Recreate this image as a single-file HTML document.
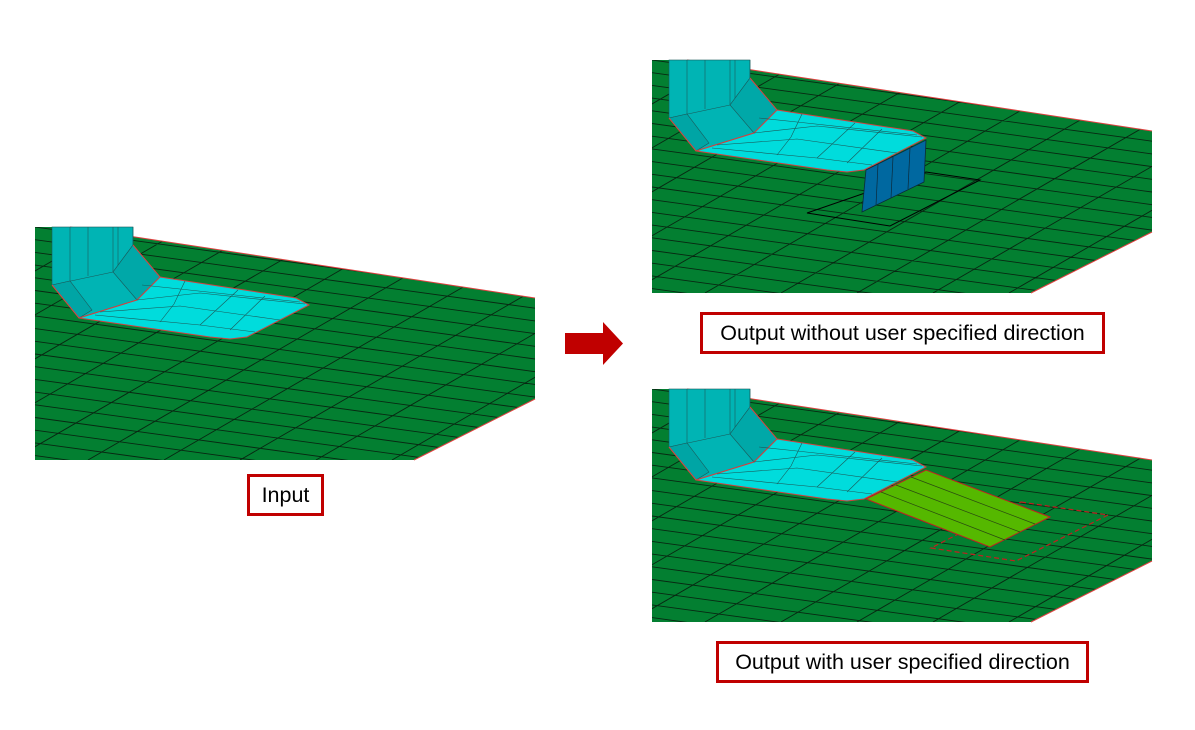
<!DOCTYPE html>
<html><head><meta charset="utf-8"><style>
html,body{margin:0;padding:0;background:#fff;}
.lbl{position:absolute;box-sizing:border-box;border:3px solid #c00000;background:#fff;font-family:"Liberation Sans",sans-serif;font-size:21.5px;color:#000;display:flex;align-items:center;justify-content:center;white-space:nowrap;}
</style></head><body>
<div style="position:relative;width:1195px;height:730px;overflow:hidden;">
<svg width="1195" height="730" style="position:absolute;left:0;top:0">
<defs>
<clipPath id="pc"><polygon points="35,227 70,227 535,298 535,399 414,460 35,460"/></clipPath>
<g id="scene">
<g clip-path="url(#pc)">
<rect x="35" y="227" width="500" height="233" fill="#037f31"/>
<path stroke="#082812" stroke-width="0.9" fill="none" d="
M35,163.5 l500,68.5 M35,176.2 l500,68.5 M35,188.9 l500,68.5 M35,201.6 l500,68.5 M35,214.3 l500,68.5
M35,227 l500,68.5 M35,239.7 l500,68.5 M35,252.4 l500,68.5 M35,265.1 l500,68.5 M35,277.8 l500,68.5
M35,290.5 l500,68.5 M35,303.2 l500,68.5 M35,315.9 l500,68.5 M35,328.6 l500,68.5 M35,341.3 l500,68.5
M35,354 l500,68.5 M35,366.7 l500,68.5 M35,379.4 l500,68.5 M35,392.1 l500,68.5 M35,404.8 l500,68.5
M35,417.5 l500,68.5 M35,430.2 l500,68.5 M35,442.9 l500,68.5 M35,455.6 l500,68.5
M35,227 l-403,233 M111,227 l-403,233 M187,227 l-403,233 M263,227 l-403,233 M339,227 l-403,233
M415,227 l-403,233 M491,227 l-403,233 M567,227 l-403,233 M643,227 l-403,233 M719,227 l-403,233
M795,227 l-403,233 M871,227 l-403,233 M947,227 l-403,233"/>
</g>
<line x1="70" y1="227" x2="535" y2="298" stroke="#e04040" stroke-width="1"/>
<line x1="535" y1="399" x2="414" y2="460" stroke="#e04040" stroke-width="1"/>
<rect x="52" y="227" width="81" height="58" fill="#00b4b4" stroke="#1a5a5a" stroke-width="0.6"/>
<line x1="70" y1="227" x2="70" y2="281" stroke="#1a5a5a" stroke-width="0.6"/>
<line x1="88" y1="227" x2="88" y2="276" stroke="#1a5a5a" stroke-width="0.6"/>
<line x1="113" y1="227" x2="113" y2="272" stroke="#1a5a5a" stroke-width="0.6"/>
<line x1="118" y1="227" x2="118" y2="265" stroke="#1a5a5a" stroke-width="0.6"/>
<polygon points="52,285 113,272 133,245 133,227 133,245 160,277 137,300 79,318" fill="#00b4b4" stroke="#1a5a5a" stroke-width="0.6"/>
<polygon points="52,285 70,281 92,310 79,318" fill="#00a5a5" stroke="#1a5a5a" stroke-width="0.6"/>
<polygon points="113,272 133,245 160,277 137,300" fill="#00a8a8" stroke="#1a5a5a" stroke-width="0.6"/>
<polyline points="52,285 79,318 137,300 160,277 133,245" fill="none" stroke="#e04040" stroke-width="1"/>
<polygon points="160,277 296,298 309,305 247,337 230,339 210,337 79,318 137,300" fill="#00dcdc" stroke="#d04040" stroke-width="1"/>
<g stroke="#1a5a5a" stroke-width="0.6" fill="none">
<polyline points="142,285 180,289 300,302"/><polyline points="137,300 200,293 305,304"/>
<polyline points="100,312 180,306 280,320"/><polyline points="95,315 200,325 255,332"/>
<polyline points="185,281 174,304 160,322"/><polyline points="238,290 200,325"/><polyline points="265,296 230,330"/>
</g>
</g>
</defs>
<use href="#scene"/>
<use href="#scene" transform="translate(617,-167)"/>
<use href="#scene" transform="translate(617,162)"/>
<polygon points="807,213 890,226 980,180 926,172" fill="none" stroke="#000" stroke-width="1"/>
<polygon points="866,170 926,140 924,182 862,212" fill="#0068a0" stroke="#0b2a3a" stroke-width="0.8"/>
<g stroke="#0b2a3a" stroke-width="0.7"><line x1="878" y1="164" x2="876" y2="205"/><line x1="893" y1="157" x2="891" y2="198"/><line x1="910" y1="148" x2="908" y2="189"/></g>
<polygon points="1021,502 1108,515 1016,561 931,548" fill="none" stroke="#c02020" stroke-width="1.2" stroke-dasharray="5,3"/>
<polygon points="866,499 926,470 1050,517 990,547" fill="#55b800" stroke="#c02020" stroke-width="1"/>
<g stroke="#2a4a10" stroke-width="0.7"><line x1="881" y1="492" x2="1005" y2="540"/><line x1="896" y1="485" x2="1020" y2="532"/><line x1="911" y1="477" x2="1035" y2="524"/></g>
<polygon points="565,333 603,333 603,322 623,343.5 603,365 603,354 565,354" fill="#c00000"/>
</svg>
<div class="lbl" style="left:247px;top:474px;width:77px;height:42px;">Input</div>
<div class="lbl" style="left:700px;top:312px;width:405px;height:42px;">Output without user specified direction</div>
<div class="lbl" style="left:716px;top:641px;width:373px;height:42px;">Output with user specified direction</div>
</div>
</body></html>
